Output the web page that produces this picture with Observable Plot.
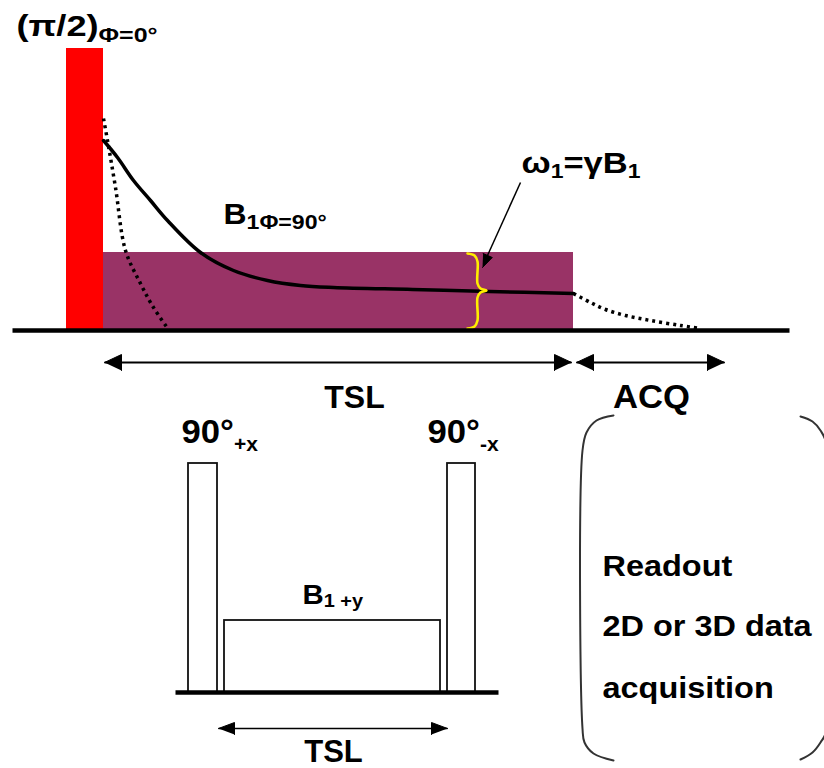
<!DOCTYPE html>
<html>
<head>
<meta charset="utf-8">
<script src="https://cdn.jsdelivr.net/npm/d3@7"></script>
<script src="https://cdn.jsdelivr.net/npm/@observablehq/plot@0.6"></script>
<style>
  html, body { margin: 0; padding: 0; background: #fff; }
</style>
</head>
<body>
<div id="chart"></div>
<script>
// ---------- Data (diagram units = pixels of the 824x768 canvas) ----------
// Filled pulses / outlined blocks
const blockX1 = [66, 103, 188, 224, 447];
const blockX2 = [103, 573, 217, 440, 475];
const blockY1 = [48, 252, 463, 620, 463];
const blockY2 = [330, 330, 692, 692, 692];
const blockFill = ["#ff0000", "#993366", "#ffffff", "#ffffff", "#ffffff"];
const blockStroke = ["none", "none", "#111111", "#111111", "#111111"];

// Baselines (time axes)
const axisX1 = [12, 175];
const axisX2 = [789, 498];
const axisY = [330, 692];

// Solid decay curve (spin-lock signal)
const solidX = [103, 117, 133, 150, 167, 200, 233, 267, 300, 333, 412, 489, 573];
const solidY = [140, 157, 180, 200, 220, 252, 270, 280, 285, 287, 289, 291, 293];

// Dotted free-decay curves
const dotFastX = [103, 107, 115, 125, 140, 153, 168];
const dotFastY = [118, 140, 187, 250, 283, 307, 329];
const dotTailX = [573, 590, 605, 625, 650, 680, 700];
const dotTailY = [293, 302, 309, 315, 320, 325, 328];

// Yellow brace
const braceX = [467, 474, 477, 477, 480, 486, 480, 477, 477, 474, 467];
const braceY = [253, 255, 261, 283, 288, 290, 292, 297, 320, 326, 328];

// Arrow shafts
const shaftX1 = [104, 576, 218, 520];
const shaftY1 = [362, 362, 728, 182];
const shaftX2 = [571, 724, 447, 487];
const shaftY2 = [362, 362, 728, 255];
const shaftW = [2, 2, 1.5, 1.5];

// Arrow heads (triangles: tip, base1, base2)
const headTipX = [104, 571, 576, 724, 218, 447, 482];
const headTipY = [362, 362, 362, 362, 728, 728, 267];
const headB1X = [121, 554, 593, 707, 234, 431, 491.8];
const headB1Y = [354, 354, 354, 354, 722, 722, 257];
const headB2X = [121, 554, 593, 707, 234, 431, 482.6];
const headB2Y = [370, 370, 370, 370, 734, 734, 253];

// Curly brackets around readout text
const bracketLX = [613, 596, 586, 582, 582, 584, 593, 613];
const bracketLY = [415, 420, 432, 450, 728, 742, 753, 760];
const bracketRX = [800, 812, 820, 826, 826, 820, 812, 800];
const bracketRY = [416, 421, 430, 444, 730, 742, 752, 759];

// Labels ("_{...}" marks a subscript)
const labelText = ["(π/2)_{Φ=0°}", "B_{1Φ=90°}", "ω_{1}=γB_{1}", "TSL", "ACQ",
  "90°_{+x}", "90°_{-x}", "B_{1 +y}", "TSL", "Readout", "2D or 3D data", "acquisition"];
const labelX = [16, 223, 521, 354, 651, 181, 427, 302, 333, 602, 602, 602];
const labelY = [35, 223, 172, 407, 407, 442, 442, 603, 761, 575, 635, 697];
const labelAnchor = ["start", "start", "start", "middle", "middle", "start", "start", "start", "middle", "start", "start", "start"];
const labelSize = [29, 29, 30, 32, 33, 33, 33, 28, 31, 29.5, 29.5, 29.5];
const labelSubSize = [20, 21, 20, 0, 0, 20, 20, 19, 0, 0, 0, 0];
const labelSubShift = [6, 5, 5, 0, 0, 8, 8, 3, 0, 0, 0, 0];
const labelStretch = [1.25, 1.1, 1.15, 1.0, 1.05, 1.05, 1.05, 1.05, 1.0, 1.1, 1.1, 1.1];

// ---------- Build tables ----------
const blocks = blockX1.map((x1, i) => ({x1, x2: blockX2[i], y1: blockY1[i], y2: blockY2[i], fill: blockFill[i], stroke: blockStroke[i]}));
const axes = axisX1.map((x1, i) => ({x1, x2: axisX2[i], y: axisY[i]}));
const solid = solidX.map((x, i) => ({x, y: solidY[i]}));
const dotted = [
  ...dotFastX.map((x, i) => ({id: "fast", x, y: dotFastY[i]})),
  ...dotTailX.map((x, i) => ({id: "tail", x, y: dotTailY[i]}))
];
const brace = braceX.map((x, i) => ({x, y: braceY[i]}));
const shafts = shaftX1.map((x1, i) => ({x1, y1: shaftY1[i], x2: shaftX2[i], y2: shaftY2[i], w: shaftW[i]}));
const heads = headTipX.flatMap((x, i) => [
  {id: i, x, y: headTipY[i]},
  {id: i, x: headB1X[i], y: headB1Y[i]},
  {id: i, x: headB2X[i], y: headB2Y[i]}
]);
const brackets = [
  ...bracketLX.map((x, i) => ({id: "L", x, y: bracketLY[i]})),
  ...bracketRX.map((x, i) => ({id: "R", x, y: bracketRY[i]}))
];
const labels = labelText.map((t, i) => ({
  t, x: labelX[i], y: labelY[i], anchor: labelAnchor[i], size: labelSize[i],
  subSize: labelSubSize[i], subShift: labelSubShift[i], stretch: labelStretch[i]
}));

const font = "'Liberation Sans', Arial, Helvetica, sans-serif";

const svg = Plot.plot({
  width: 824,
  height: 768,
  margin: 0,
  x: {domain: [0, 824], axis: null},
  y: {domain: [0, 768], reverse: true, axis: null},
  style: {background: "#ffffff", overflow: "hidden"},
  marks: [
    // filled pulses, then outlined bottom blocks
    Plot.rect(blocks.filter(d => d.stroke === "none"), {x1: "x1", x2: "x2", y1: "y1", y2: "y2", fill: d => d.fill}),
    Plot.rect(blocks.filter(d => d.stroke !== "none"), {x1: "x1", x2: "x2", y1: "y1", y2: "y2", fill: "#ffffff", stroke: "#111111", strokeWidth: 1.8}),
    // curves
    Plot.line(solid, {x: "x", y: "y", curve: "catmull-rom", stroke: "#000000", strokeWidth: 3.5}),
    Plot.line(dotted, {x: "x", y: "y", z: "id", curve: "catmull-rom", stroke: "#000000", strokeWidth: 3.5, strokeDasharray: "3,4", strokeLinecap: "butt"}),
    Plot.line(brace, {x: "x", y: "y", curve: "catmull-rom", stroke: "#ffee00", strokeWidth: 2.6}),
    // baselines
    Plot.link(axes, {x1: "x1", x2: "x2", y1: "y", y2: "y", stroke: "#000000", strokeWidth: 4.5}),
    // arrows
    Plot.link(shafts.filter(d => d.w === 2), {x1: "x1", y1: "y1", x2: "x2", y2: "y2", stroke: "#000000", strokeWidth: 2}),
    Plot.link(shafts.filter(d => d.w !== 2), {x1: "x1", y1: "y1", x2: "x2", y2: "y2", stroke: "#000000", strokeWidth: 1.5}),
    Plot.line(heads, {x: "x", y: "y", z: "id", fill: "#000000", stroke: "#000000", strokeWidth: 1, strokeLinejoin: "miter"}),
    // brackets
    Plot.line(brackets, {x: "x", y: "y", z: "id", curve: "catmull-rom", stroke: "#333333", strokeWidth: 2}),
    // labels
    Plot.text(labels.filter(d => d.anchor === "start"), {x: "x", y: "y", text: "t", textAnchor: "start", lineAnchor: "bottom",
      fontSize: "size", fontWeight: "bold", fontFamily: font, fill: "#000000"}),
    Plot.text(labels.filter(d => d.anchor === "middle"), {x: "x", y: "y", text: "t", textAnchor: "middle", lineAnchor: "bottom",
      fontSize: "size", fontWeight: "bold", fontFamily: font, fill: "#000000"})
  ]
});

// Subscript rendering and horizontal stretch of labels
d3.select(svg).selectAll("text").each(function () {
  const raw = this.textContent;
  const L = labels.find(l => l.t === raw);
  if (!L) return;
  const parts = raw.split(/(_\{[^}]*\})/).filter(s => s.length);
  this.textContent = "";
  let shifted = false;
  for (const p of parts) {
    const ts = document.createElementNS("http://www.w3.org/2000/svg", "tspan");
    if (p.startsWith("_{")) {
      ts.textContent = p.slice(2, -1);
      ts.style.fontSize = L.subSize + "px";
      ts.setAttribute("dy", L.subShift);
      shifted = true;
    } else {
      ts.textContent = p;
      if (shifted) { ts.setAttribute("dy", -L.subShift); shifted = false; }
    }
    this.appendChild(ts);
  }
  if (L.stretch !== 1) {
    const tr = this.getAttribute("transform");
    if (tr) {
      this.setAttribute("transform", tr + ` scale(${L.stretch},1)`);
    } else {
      const x = +this.getAttribute("x") || 0, y = +this.getAttribute("y") || 0;
      this.removeAttribute("x"); this.removeAttribute("y");
      this.setAttribute("transform", `translate(${x},${y}) scale(${L.stretch},1)`);
    }
  }
});

document.getElementById("chart").appendChild(svg);
</script>
</body>
</html>
